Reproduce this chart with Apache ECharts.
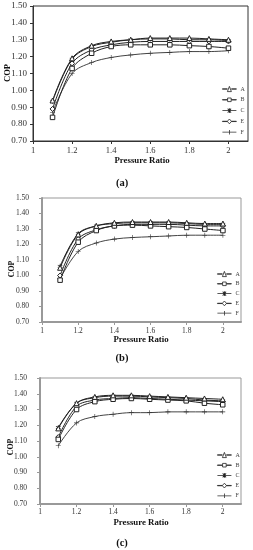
<!DOCTYPE html>
<html><head><meta charset="utf-8">
<script src="https://cdn.jsdelivr.net/npm/echarts@6/dist/echarts.min.js"></script>
<style>html,body{margin:0;padding:0;background:#fff}#c{width:253px;height:550px}</style>
</head><body><div id="c"></div>
<script>
var pressureRatio = [1.1, 1.2, 1.3, 1.4, 1.5, 1.6, 1.7, 1.8, 1.9, 2.0];
var xTicks = [1, 1.2, 1.4, 1.6, 1.8, 2];
var seriesNames = ['A', 'B', 'C', 'E', 'F'];
// panel (a)
var aA = [0.94, 1.19, 1.265, 1.29, 1.30, 1.31, 1.31, 1.31, 1.305, 1.30];
var aB = [0.84, 1.13, 1.22, 1.26, 1.27, 1.27, 1.27, 1.265, 1.26, 1.25];
var aC = [0.935, 1.185, 1.26, 1.285, 1.30, 1.305, 1.305, 1.30, 1.30, 1.295];
var aE = [0.89, 1.16, 1.24, 1.27, 1.285, 1.29, 1.29, 1.29, 1.29, 1.29];
var aF = [0.87, 1.10, 1.165, 1.195, 1.21, 1.22, 1.225, 1.23, 1.23, 1.235];
// panel (b)
var bA = [1.05, 1.265, 1.32, 1.34, 1.345, 1.345, 1.345, 1.34, 1.335, 1.335];
var bB = [0.97, 1.215, 1.29, 1.32, 1.325, 1.32, 1.315, 1.31, 1.30, 1.29];
var bC = [1.06, 1.27, 1.32, 1.335, 1.34, 1.34, 1.34, 1.335, 1.33, 1.33];
var bE = [1.00, 1.235, 1.295, 1.32, 1.33, 1.33, 1.33, 1.325, 1.32, 1.32];
var bF = [0.98, 1.155, 1.21, 1.235, 1.245, 1.25, 1.255, 1.26, 1.26, 1.26];
// panel (c)
var cA = [1.18, 1.34, 1.38, 1.39, 1.39, 1.385, 1.38, 1.375, 1.37, 1.365];
var cB = [1.11, 1.30, 1.35, 1.365, 1.37, 1.365, 1.36, 1.355, 1.34, 1.33];
var cC = [1.185, 1.34, 1.375, 1.385, 1.385, 1.38, 1.375, 1.37, 1.36, 1.355];
var cE = [1.125, 1.32, 1.36, 1.37, 1.375, 1.37, 1.365, 1.36, 1.355, 1.35];
var cF = [1.07, 1.215, 1.255, 1.27, 1.28, 1.28, 1.285, 1.285, 1.285, 1.285];
var yMin = 0.7, yMax = 1.5, yStep = 0.1, xMin = 1, xMax = 2.1, xStep = 0.2;

var panels = [
  {data: [aA, aB, aC, aE, aF], left: 33, top: 6, width: 215, height: 135, frame: '#333', axisW: 1, yFont: 9, xFont: 8.5, yMargin: 6, xMargin: 5,
   copX: 8, copY: 73, copFont: 8.5, prX: 142, prY: 161, lab: '(a)', labY: 183, legTop: 86, legLeft: 222, legGap: 4.8},
  {data: [bA, bB, bC, bE, bF], left: 42, top: 198, width: 199, height: 124, frame: '#999', axisW: 2, yFont: 7.5, xFont: 7.5, yMargin: 13, xMargin: 5,
   copX: 12, copY: 269, copFont: 7.8, prX: 141, prY: 340, lab: '(b)', labY: 358, legTop: 271, legLeft: 217, legGap: 3.8},
  {data: [cA, cB, cC, cE, cF], left: 40, top: 378, width: 201, height: 126, frame: '#999', axisW: 2, yFont: 7.5, xFont: 7.5, yMargin: 13, xMargin: 4,
   copX: 11, copY: 447, copFont: 7.8, prX: 141, prY: 523, lab: '(c)', labY: 543, legTop: 452, legLeft: 217, legGap: 4.2}
];

var symbols = ['triangle', 'rect',
  'path://M4.4,0h1.2v3.6l3.1-1.8.6,1-3.1,1.8 3.1,1.8-.6,1-3.1-1.8v3.6h-1.2v-3.6l-3.1,1.8-.6-1 3.1-1.8-3.1-1.8.6-1 3.1,1.8z',
  'diamond',
  'path://M4.4,0h1.2v4.4h4.4v1.2h-4.4v4.4h-1.2v-4.4h-4.4v-1.2h4.4z'];
var symSizes = [5, 4.5, 5, 5, 5];
var symFill = ['#fff', '#fff', '#222', '#fff', '#333'];
var symBorder = [1, 1, 0, 1, 0];
// legend icons: short line with marker in the middle (drawn in a 14 x 6 box)
var hollowLine = 'M0,2.85H4.9V3.15H0Z M9.1,2.85H14V3.15H9.1Z ';
var legendIcons = [
  'path://' + hollowLine + 'M5,5.6L7,0.4L9,5.6Z',
  'path://' + hollowLine + 'M5.2,1.2H8.8V4.8H5.2Z',
  'path://M0,2.6H14V3.4H0Z M6.6,0.6H7.4V5.4H6.6Z M5,1.3L5.6,0.7L9,4.7L8.4,5.3Z M8.4,0.7L9,1.3L5.6,5.3L5,4.7Z M6,2H8V4H6Z',
  'path://' + hollowLine + 'M7,0.6L9.1,3L7,5.4L4.9,3Z',
  'path://M0,2.6H14V3.4H0Z M6.6,0.7H7.4V5.3H6.6Z'
];

var grids = [], xAxes = [], yAxes = [], series = [], legends = [], graphics = [];
var font = 'Liberation Serif';
panels.forEach(function (p, i) {
  grids.push({left: p.left, top: p.top, width: p.width, height: p.height, show: true, borderColor: p.frame, borderWidth: 1, containLabel: false});
  xAxes.push({type: 'value', gridIndex: i, min: xMin, max: xMax, interval: xStep,
    axisLine: {show: true, onZero: false, lineStyle: {color: p.frame, width: p.axisW}},
    axisTick: {show: true, inside: false, length: 3, lineStyle: {color: p.frame}},
    splitLine: {show: false},
    axisLabel: {fontFamily: font, fontSize: p.xFont, color: '#333', margin: p.xMargin, showMaxLabel: false,
      formatter: function (v) { var r = Math.round(v * 10) / 10; return xTicks.indexOf(r) >= 0 ? String(r) : ''; }}});
  yAxes.push({type: 'value', gridIndex: i, min: yMin, max: yMax, interval: yStep,
    axisLine: {show: true, lineStyle: {color: p.frame, width: p.axisW}},
    axisTick: {show: true, inside: false, length: 3, lineStyle: {color: p.frame}},
    splitLine: {show: false},
    axisLabel: {fontFamily: font, fontSize: p.yFont, color: '#333', margin: p.yMargin, formatter: function (v) { return v.toFixed(2); }}});
  p.data.forEach(function (vals, k) {
    series.push({type: 'line', name: seriesNames[k], xAxisIndex: i, yAxisIndex: i, smooth: 0.35,
      data: pressureRatio.map(function (x, j) { return [x, vals[j]]; }),
      symbol: symbols[k], symbolSize: symSizes[k], showAllSymbol: true,
      lineStyle: {color: k === 4 ? '#444' : '#222', width: 1},
      itemStyle: {color: symFill[k], borderColor: '#222', borderWidth: symBorder[k]},
      emphasis: {disabled: true}, animation: false, z: 10 - k});
  });
  legends.push({orient: 'vertical', left: p.legLeft, top: p.legTop, itemWidth: 14, itemHeight: 6, itemGap: p.legGap,
    data: seriesNames.map(function (n, k) {
      return {name: n, icon: legendIcons[k],
        itemStyle: {color: symFill[k], borderColor: '#222', borderWidth: symBorder[k] ? 0.8 : 0}};
    }),
    selectedMode: false, padding: 0,
    textStyle: {fontFamily: font, fontSize: 6, color: '#444', padding: [0, 0, 0, -1]}});
  graphics.push({type: 'text', x: p.copX, y: p.copY, rotation: Math.PI / 2,
    style: {text: 'COP', font: 'bold ' + p.copFont + 'px "Liberation Serif"', fill: '#111', textAlign: 'center', textVerticalAlign: 'middle'}});
  graphics.push({type: 'text', x: p.prX, y: p.prY,
    style: {text: 'Pressure Ratio', font: 'bold 8.8px "Liberation Serif"', fill: '#111', textAlign: 'center', textVerticalAlign: 'middle'}});
  graphics.push({type: 'text', x: 122, y: p.labY,
    style: {text: p.lab, font: 'bold 10.5px "Liberation Serif"', fill: '#111', textAlign: 'center', textVerticalAlign: 'middle'}});
});

var chart = echarts.init(document.getElementById('c'), null, {renderer: 'canvas'});
chart.setOption({animation: false, backgroundColor: '#fff', grid: grids, xAxis: xAxes, yAxis: yAxes, series: series, legend: legends, graphic: graphics});
</script></body></html>
